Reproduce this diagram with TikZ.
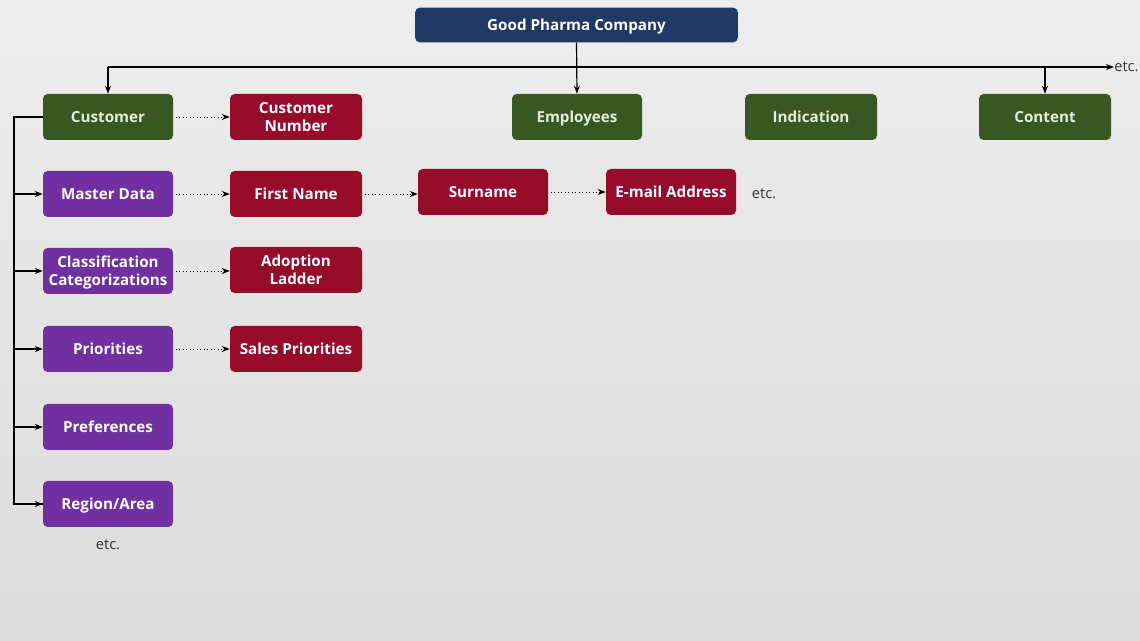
\documentclass[tikz,border=0pt]{standalone}
\usepackage{fontspec}
\setmainfont{Open Sans}
\newcommand\boxfnt{\bfseries}
\usetikzlibrary{arrows.meta}
\definecolor{navy}{RGB}{32,56,100}
\definecolor{dgreen}{RGB}{56,87,35}
\definecolor{purp}{RGB}{112,48,160}
\definecolor{crim}{RGB}{150,10,42}
\definecolor{lgtext}{RGB}{226,240,217}
\tikzset{
  box/.style={rounded corners=3.5pt, minimum width=97.5pt, minimum height=34.5pt, inner sep=1pt, align=center, font=\boxfnt\fontsize{11.4}{13.5}\selectfont, text=white, text height=8.2pt, text depth=0pt},
  twoline/.style={text height=21.7pt},
  topbox/.style={box, fill=navy, minimum width=242pt, minimum height=26pt},
  grnbox/.style={box, fill=dgreen, text=lgtext},
  purbox/.style={box, fill=purp},
  redbox/.style={box, fill=crim},
  solidarr/.style={line width=0.9pt, -{Stealth[length=6pt,width=4.5pt]}},
  dotarr/.style={line width=0.6pt, dotted, -{Stealth[length=6pt,width=4.5pt]}},
  plain/.style={line width=0.9pt},
  etcl/.style={font=\fontsize{11}{13}\selectfont, text=black!80, inner sep=0pt}
}
\begin{document}
\begin{tikzpicture}[x=0.75pt,y=-0.75pt]
\shade[top color=white!93!black, bottom color=white!86!black] (0,0) rectangle (1140,641);
\useasboundingbox (0,0) rectangle (1140,641);
\node[topbox] (gpc) at (576.5,25) {Good Pharma Company};
\node[grnbox] (cust) at (108,117) {Customer};
\node[redbox, twoline, minimum width=99pt] (cnum) at (296,117) {Customer\\Number};
\node[grnbox] (emp) at (577,117) {Employees};
\node[grnbox, minimum width=99pt] (ind) at (811,117) {Indication};
\node[grnbox, minimum width=99pt] (cont) at (1045,117) {Content};
\node[purbox] (md) at (108,194) {Master Data};
\node[redbox, minimum width=99pt] (fn) at (296,194) {First Name};
\node[redbox] (sn) at (483,192) {Surname};
\node[redbox] (em) at (671,192) {E-mail Address};
\node[etcl] (etc2) at (764,194) {etc.};
\node[purbox, twoline] (cc) at (108,271) {Classification\\Categorizations};
\node[redbox, twoline, minimum width=99pt] (al) at (296,270) {Adoption\\Ladder};
\node[purbox] (pri) at (108,349) {Priorities};
\node[redbox, minimum width=99pt] (sp) at (296,349) {Sales Priorities};
\node[purbox] (pref) at (108,427) {Preferences};
\node[purbox] (reg) at (108,504) {Region/Area};
\node[etcl] (etc3) at (108,545) {etc.};
\node[etcl, anchor=west] (etc1) at (1114,67) {etc.};
\coordinate (hl) at (108,67);
\coordinate (hc) at (1045,67);
\coordinate (vl) at (14,117);
% top bus
\draw[solidarr] (gpc.south) -- (emp.north);
\draw[solidarr] (hl) -- (etc1.west);
\draw[solidarr] (hl) -- (cust.north);
\draw[solidarr] (hc) -- (cont.north);
% left bus
\draw[plain] (cust.west) -- (vl) |- (reg.west);
\draw[solidarr] (vl |- md.west) -- (md.west);
\draw[solidarr] (vl |- cc.west) -- (cc.west);
\draw[solidarr] (vl |- pri.west) -- (pri.west);
\draw[solidarr] (vl |- pref.west) -- (pref.west);
\draw[solidarr] (vl |- reg.west) -- (reg.west);
% dotted
\draw[dotarr] ([xshift=2pt]cust.east) -- (cnum.west);
\draw[dotarr] ([xshift=2pt]md.east) -- (fn.west);
\draw[dotarr] ([xshift=2pt]fn.east) -- (sn.west |- fn.east);
\draw[dotarr] ([xshift=2pt]sn.east) -- (em.west);
\draw[dotarr] ([xshift=2pt]cc.east) -- (al.west |- cc.east);
\draw[dotarr] ([xshift=2pt]pri.east) -- (sp.west);
\end{tikzpicture}
\end{document}
